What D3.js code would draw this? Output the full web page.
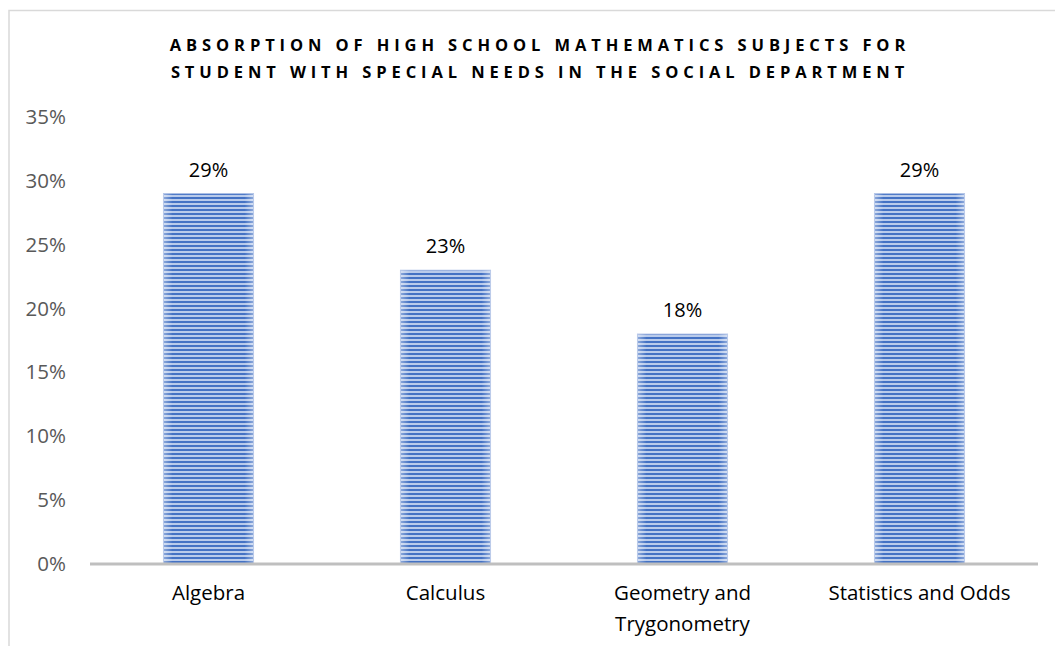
<!DOCTYPE html>
<html>
<head>
<meta charset="utf-8">
<script src="https://cdn.jsdelivr.net/npm/d3@7"></script>
<style>
  body { margin: 0; background: #fff; }
  text { font-family: "Open Sans", Lato, sans-serif; }
</style>
</head>
<body>
<svg id="chart" width="1055" height="646"></svg>
<script>
// chart data
var subjects = ["Algebra", "Calculus", "Geometry and\nTrygonometry", "Statistics and Odds"];
var shares = [29, 23, 18, 29];
var yTicks = [0, 5, 10, 15, 20, 25, 30, 35];
var titleLines = [
  "ABSORPTION OF HIGH SCHOOL MATHEMATICS SUBJECTS FOR",
  "STUDENT WITH SPECIAL NEEDS IN THE SOCIAL DEPARTMENT"
];

var svg = d3.select("#chart");

// outer frame (cropped at right / bottom)
svg.append("path")
  .attr("d", "M9,646 V10.5 H1055")
  .attr("fill", "none")
  .attr("stroke", "#d9d9d9")
  .attr("stroke-width", 1.5);

// striped fill for bars
var defs = svg.append("defs");
var pat = defs.append("pattern")
  .attr("id", "stripes")
  .attr("patternUnits", "userSpaceOnUse")
  .attr("width", 8).attr("height", 4);
pat.append("rect").attr("width", 8).attr("height", 4).attr("fill", "#b9cbeb");
pat.append("rect").attr("y", 1).attr("width", 8).attr("height", 2).attr("fill", "#4472c4");

var edge = defs.append("linearGradient").attr("id", "edge");
edge.append("stop").attr("offset", "0").attr("stop-color", "#fff").attr("stop-opacity", 0.4);
edge.append("stop").attr("offset", "0.1").attr("stop-color", "#fff").attr("stop-opacity", 0);
edge.append("stop").attr("offset", "0.9").attr("stop-color", "#fff").attr("stop-opacity", 0);
edge.append("stop").attr("offset", "1").attr("stop-color", "#fff").attr("stop-opacity", 0.4);

var plotLeft = 90, plotRight = 1038, plotTop = 117, plotBottom = 564;

var x = d3.scaleBand()
  .domain(subjects)
  .range([plotLeft, plotRight])
  .paddingInner(0.62)
  .paddingOuter(0.31);

var y = d3.scaleLinear()
  .domain([0, 35])
  .range([plotBottom, plotTop]);

// title
svg.append("g").selectAll("text")
  .data(titleLines)
  .enter().append("text")
  .attr("x", 540)
  .attr("y", 51)
  .attr("dy", function(d, i) { return i * 27; })
  .attr("text-anchor", "middle")
  .attr("font-size", 16.5)
  .attr("font-weight", "bold")
  .attr("letter-spacing", 4.9)
  .attr("fill", "#000")
  .text(function(d) { return d; });

// y axis labels
var yAxis = d3.axisLeft(y)
  .tickValues(yTicks)
  .tickSize(0)
  .tickPadding(0)
  .tickFormat(function(d) { return d + "%"; });

var yg = svg.append("g")
  .attr("transform", "translate(66,0)")
  .call(yAxis);
yg.select(".domain").remove();
yg.selectAll("text")
  .attr("font-size", 20.5)
  .attr("fill", "#595959")
  .style("font-family", "'Open Sans', Lato, sans-serif");

// bars
var bars = svg.append("g");
bars.selectAll("rect.bar")
  .data(shares)
  .enter().append("rect")
  .attr("class", "bar")
  .attr("x", function(d, i) { return x(subjects[i]); })
  .attr("y", function(d) { return y(d); })
  .attr("width", x.bandwidth())
  .attr("height", function(d) { return plotBottom - y(d); })
  .attr("fill", "url(#stripes)")
  .attr("stroke", "#a9bde4")
  .attr("stroke-width", 1);
bars.selectAll("rect.shade")
  .data(shares)
  .enter().append("rect")
  .attr("class", "shade")
  .attr("x", function(d, i) { return x(subjects[i]); })
  .attr("y", function(d) { return y(d); })
  .attr("width", x.bandwidth())
  .attr("height", function(d) { return plotBottom - y(d); })
  .attr("fill", "url(#edge)");

// value labels
svg.append("g").selectAll("text")
  .data(shares)
  .enter().append("text")
  .attr("x", function(d, i) { return x(subjects[i]) + x.bandwidth() / 2; })
  .attr("y", function(d) { return y(d) - 17; })
  .attr("text-anchor", "middle")
  .attr("font-size", 20)
  .attr("fill", "#000")
  .text(function(d) { return d + "%"; });

// x axis line
svg.append("line")
  .attr("x1", plotLeft).attr("x2", plotRight)
  .attr("y1", plotBottom).attr("y2", plotBottom)
  .attr("stroke", "#bfbfbf")
  .attr("stroke-width", 3);

// category labels
var cats = svg.append("g").selectAll("text")
  .data(subjects)
  .enter().append("text")
  .attr("x", function(d) { return x(d) + x.bandwidth() / 2; })
  .attr("y", 600)
  .attr("text-anchor", "middle")
  .attr("font-size", 20.5)
  .attr("fill", "#000");
cats.each(function(d) {
  var t = d3.select(this);
  d.split("\n").forEach(function(line, i) {
    t.append("tspan")
      .attr("x", t.attr("x"))
      .attr("dy", i === 0 ? 0 : 31)
      .text(line);
  });
});
</script>
</body>
</html>
